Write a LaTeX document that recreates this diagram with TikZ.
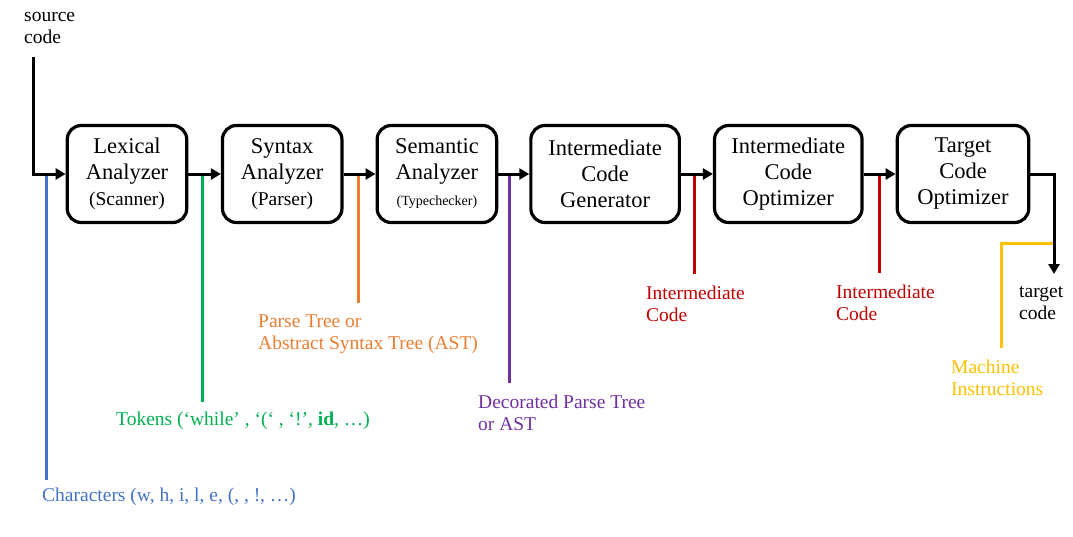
\documentclass[tikz,border=0pt]{standalone}
\usepackage{fontspec}
\setmainfont{Liberation Serif}
\usetikzlibrary{arrows.meta, positioning, calc}

\definecolor{charblue}{HTML}{4472C4}
\definecolor{tokgreen}{HTML}{00B050}
\definecolor{treeorange}{HTML}{ED7D31}
\definecolor{decpurple}{HTML}{7030A0}
\definecolor{icred}{HTML}{C00000}
\definecolor{machyellow}{HTML}{FFC000}

\begin{document}
\begin{tikzpicture}[
    x=1pt, y=-1pt,
    stage/.style={draw, rounded corners=14pt, line width=3.2pt, align=center, minimum height=97pt, inner sep=2pt, font=\fontsize{22.5}{26}\selectfont},
    flow/.style={-{Triangle[length=10pt,width=11pt]}, line width=3pt},
    tap/.style={line width=3pt},
    lbl/.style={align=left, anchor=west, inner sep=0pt, font=\fontsize{19.5}{22.5}\selectfont}
]
\useasboundingbox (0,0) rectangle (1073,536);

% Fases del compilador
\node[stage, minimum width=119.5pt] (lex) at (127,174) {Lexical\\Analyzer\\{\fontsize{19.5}{22}\selectfont(Scanner)}};
\node[stage, right=32.5pt of lex, minimum width=119.5pt] (syn) {Syntax\\Analyzer\\{\fontsize{19.5}{22}\selectfont(Parser)}};
\node[stage, right=32pt of syn, minimum width=119.5pt] (sem) {Semantic\\Analyzer\\{\fontsize{14}{18}\selectfont(Typechecker)}};
\node[stage, right=31pt of sem, minimum width=148.5pt] (icg) {Intermediate\\Code\\Generator};
\node[stage, right=32pt of icg, minimum width=147.5pt] (ico) {Intermediate\\Code\\Optimizer};
\node[stage, right=32pt of ico, minimum width=131.5pt] (tco) {Target\\Code\\Optimizer};

% Entrada y salida
\node[lbl] (srclbl) at (24,28) {source\\code};
\coordinate (src) at (33,57);
\coordinate (out) at (1054,274);
\node[lbl] (tgtlbl) at (1019,303) {target\\code};

% Puntos de las derivaciones
\coordinate (chars) at (46,174);
\coordinate (charsend) at (46,480);
\coordinate (toks) at (202,174);
\coordinate (toksend) at (202,402);
\coordinate (tree) at (358,174);
\coordinate (treeend) at (358,303);
\coordinate (dec) at (509,174);
\coordinate (decend) at (509,383);
\coordinate (ica) at (694,174);
\coordinate (icaend) at (694,274);
\coordinate (icb) at (879,174);
\coordinate (icbend) at (879,273);
\coordinate (mach) at (1054,243);
\coordinate (machend) at (1001,348);

% Derivaciones de color
\draw[tap, charblue] (chars) -- (charsend);
\draw[tap, tokgreen] (toks) -- (toksend);
\draw[tap, treeorange] (tree) -- (treeend);
\draw[tap, decpurple] (dec) -- (decend);
\draw[tap, icred] (ica) -- (icaend);
\draw[tap, icred] (icb) -- (icbend);
\draw[tap, machyellow] (mach) -| (machend);

% Flechas principales
\draw[flow] (src) |- (lex.west);
\draw[flow] (lex.east) -- (syn.west);
\draw[flow] (syn.east) -- (sem.west);
\draw[flow] (sem.east) -- (icg.west);
\draw[flow] (icg.east) -- (ico.west);
\draw[flow] (ico.east) -- (tco.west);
\draw[flow] (tco.east) -| (out);

% Etiquetas
\node[lbl, text=charblue] (charlbl) at (42,497) {Characters (w, h, i, l, e, (, , !, …)};
\node[lbl, text=tokgreen] (toklbl) at (116,421) {Tokens (‘while’ , ‘(‘ , ‘!’, \textbf{id}, …)};
\node[lbl, text=treeorange] (treelbl) at (258,334) {Parse Tree or\\Abstract Syntax Tree (AST)};
\node[lbl, text=decpurple] (declbl) at (478,413) {Decorated Parse Tree\\or AST};
\node[lbl, text=icred] (icalbl) at (646,304) {Intermediate\\Code};
\node[lbl, text=icred] (icblbl) at (836,303) {Intermediate\\Code};
\node[lbl, text=machyellow] (machlbl) at (951,378) {Machine\\Instructions};

\end{tikzpicture}
\end{document}
